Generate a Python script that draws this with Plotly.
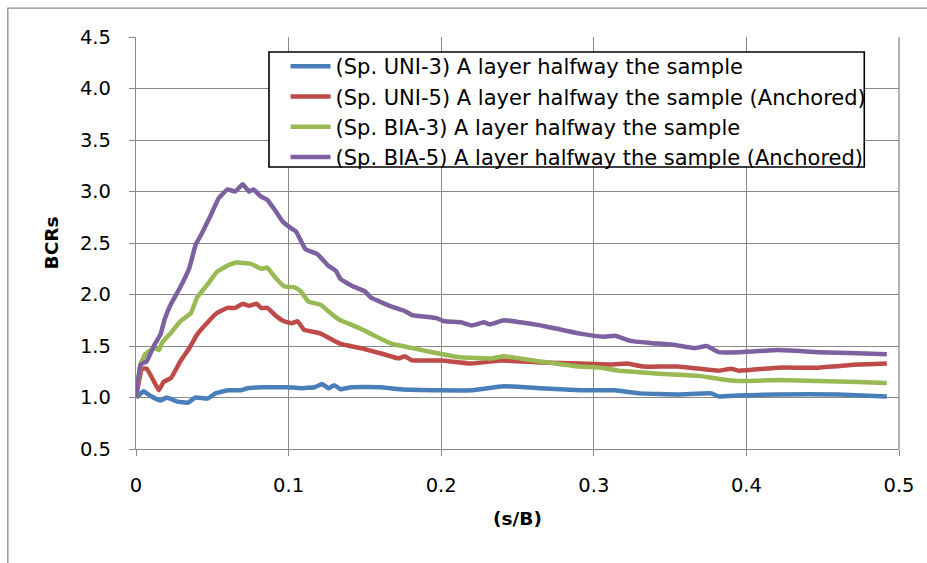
import plotly.graph_objects as go

# ---- data ----
uni3_x = [0, 0.005, 0.009, 0.016, 0.020, 0.027, 0.034, 0.039, 0.047, 0.052, 0.060, 0.069, 0.073,
          0.082, 0.091, 0.099, 0.108, 0.117, 0.122, 0.126, 0.130, 0.134, 0.141, 0.16, 0.173, 0.2,
          0.22, 0.241, 0.265, 0.291, 0.314, 0.33, 0.356, 0.377, 0.382, 0.395, 0.421, 0.46, 0.492]
uni3_y = [1.0, 1.06, 1.02, 0.97, 1.0, 0.96, 0.95, 1.0, 0.99, 1.04, 1.07, 1.07, 1.09,
          1.10, 1.10, 1.10, 1.09, 1.10, 1.13, 1.09, 1.12, 1.08, 1.10, 1.10, 1.08, 1.07,
          1.07, 1.11, 1.09, 1.07, 1.07, 1.04, 1.03, 1.04, 1.01, 1.02, 1.03, 1.03, 1.01]

uni5_x = [0, 0.004, 0.007, 0.012, 0.015, 0.018, 0.023, 0.029, 0.035, 0.040, 0.047, 0.053, 0.060,
          0.065, 0.070, 0.074, 0.079, 0.082, 0.086, 0.092, 0.097, 0.102, 0.106, 0.110, 0.121,
          0.134, 0.147, 0.16, 0.172, 0.176, 0.181, 0.2, 0.22, 0.239, 0.265, 0.291, 0.312, 0.322,
          0.332, 0.355, 0.382, 0.39, 0.395, 0.421, 0.447, 0.473, 0.492]
uni5_y = [1.0, 1.28, 1.28, 1.15, 1.07, 1.15, 1.19, 1.35, 1.48, 1.61, 1.73, 1.82, 1.87,
          1.87, 1.91, 1.89, 1.91, 1.87, 1.87, 1.79, 1.74, 1.72, 1.74, 1.66, 1.62,
          1.52, 1.48, 1.43, 1.38, 1.40, 1.36, 1.36, 1.33, 1.36, 1.34, 1.33, 1.32, 1.33,
          1.30, 1.30, 1.26, 1.28, 1.26, 1.29, 1.29, 1.32, 1.33]

bia3_x = [0, 0.003, 0.006, 0.012, 0.015, 0.017, 0.023, 0.029, 0.036, 0.040, 0.047, 0.053, 0.060,
          0.066, 0.075, 0.082, 0.086, 0.091, 0.097, 0.104, 0.108, 0.113, 0.121, 0.129, 0.134,
          0.147, 0.155, 0.168, 0.181, 0.194, 0.213, 0.233, 0.241, 0.265, 0.291, 0.304, 0.317,
          0.343, 0.369, 0.382, 0.395, 0.421, 0.447, 0.473, 0.492]
bia3_y = [1.0, 1.32, 1.42, 1.48, 1.46, 1.53, 1.63, 1.74, 1.82, 1.97, 2.10, 2.22, 2.28,
          2.31, 2.30, 2.25, 2.26, 2.17, 2.08, 2.07, 2.03, 1.93, 1.90, 1.80, 1.75,
          1.67, 1.61, 1.52, 1.48, 1.44, 1.39, 1.38, 1.40, 1.35, 1.30, 1.29, 1.26,
          1.23, 1.21, 1.18, 1.16, 1.17, 1.16, 1.15, 1.14]

bia5_x = [0, 0.003, 0.007, 0.012, 0.016, 0.019, 0.023, 0.029, 0.035, 0.039, 0.043, 0.049, 0.054,
          0.060, 0.065, 0.070, 0.074, 0.077, 0.082, 0.086, 0.091, 0.096, 0.102, 0.105, 0.111,
          0.119, 0.126, 0.131, 0.134, 0.142, 0.15, 0.154, 0.168, 0.176, 0.181, 0.197, 0.202,
          0.213, 0.22, 0.228, 0.232, 0.241, 0.252, 0.265, 0.275, 0.291, 0.306, 0.314, 0.324,
          0.337, 0.353, 0.366, 0.374, 0.382, 0.395, 0.421, 0.447, 0.473, 0.492]
bia5_y = [1.0, 1.32, 1.35, 1.51, 1.61, 1.77, 1.91, 2.07, 2.26, 2.48, 2.59, 2.77, 2.93,
          3.02, 3.0, 3.07, 3.0, 3.02, 2.95, 2.92, 2.82, 2.71, 2.64, 2.61, 2.44,
          2.39, 2.28, 2.23, 2.15, 2.08, 2.03, 1.97, 1.88, 1.84, 1.80, 1.77, 1.74,
          1.73, 1.70, 1.73, 1.71, 1.75, 1.73, 1.70, 1.67, 1.62, 1.59, 1.60, 1.55,
          1.53, 1.51, 1.48, 1.50, 1.44, 1.44, 1.46, 1.44, 1.43, 1.42]

series_names = ["(Sp. UNI-3) A layer halfway the sample",
                "(Sp. UNI-5) A layer halfway the sample (Anchored)",
                "(Sp. BIA-3) A layer halfway the sample",
                "(Sp. BIA-5) A layer halfway the sample (Anchored)"]
series_colors = ["#4A7EBB", "#BE4B48", "#98B954", "#7D60A0"]

x_ticks = [0, 0.1, 0.2, 0.3, 0.4, 0.5]
x_tick_labels = ["0", "0.1", "0.2", "0.3", "0.4", "0.5"]
y_ticks = [0.5, 1.0, 1.5, 2.0, 2.5, 3.0, 3.5, 4.0, 4.5]
y_tick_labels = ["0.5", "1.0", "1.5", "2.0", "2.5", "3.0", "3.5", "4.0", "4.5"]

FONT = "'DejaVu Sans', 'Open Sans', sans-serif"
GRID = "#8A8A8A"

fig = go.Figure()
for xs, ys, name, col in zip([uni3_x, uni5_x, bia3_x, bia5_x],
                             [uni3_y, uni5_y, bia3_y, bia5_y],
                             series_names, series_colors):
    fig.add_trace(go.Scatter(x=xs, y=ys, mode="lines", name=name,
                             line=dict(color=col, width=4.5, shape="spline", smoothing=0.3)))

fig.update_layout(
    width=927, height=563,
    margin=dict(l=136, r=22, t=37, b=114),
    paper_bgcolor="white", plot_bgcolor="white",
    font=dict(family=FONT, size=19.5, color="black"),
    showlegend=True,
    legend=dict(x=0.196, y=0.978, xanchor="left", yanchor="top",
                borderwidth=0, bgcolor="rgba(0,0,0,0)",
                font=dict(family=FONT, size=21, color="black"),
                itemwidth=40, tracegroupgap=0),
    xaxis=dict(range=[0, 0.5], tickvals=x_ticks, ticktext=x_tick_labels,
               showgrid=True, gridcolor=GRID, gridwidth=1.3,
               showline=True, linecolor=GRID, linewidth=1.3, mirror=False,
               ticks="outside", ticklen=6, tickcolor=GRID, tickwidth=1.3,
               zeroline=False, ticklabelstandoff=12,
               title=dict(text="<b>(s/B)</b>", standoff=16,
                          font=dict(family=FONT, size=18.5, color="black"))),
    yaxis=dict(range=[0.5, 4.5], tickvals=y_ticks, ticktext=y_tick_labels,
               showgrid=True, gridcolor=GRID, gridwidth=1.3,
               showline=True, linecolor=GRID, linewidth=1.3,
               ticks="outside", ticklen=6, tickcolor=GRID, tickwidth=1.3,
               zeroline=False, ticklabelstandoff=14,
               title=dict(text="<b>BCRs</b>", standoff=16,
                          font=dict(family=FONT, size=18.5, color="black"))),
)

# plot-area right border
fig.add_shape(type="line", xref="paper", yref="paper", x0=1, x1=1, y0=0, y1=1,
              line=dict(color=GRID, width=1.3))
# legend box (white, black border) drawn behind the legend entries
fig.add_shape(type="rect", xref="paper", yref="paper",
              x0=0.1743, x1=0.9545, y0=0.6845, y1=0.9636,
              line=dict(color="black", width=1.6), fillcolor="white", layer="above")
# chart-area outer border
fig.add_shape(type="rect", xref="paper", yref="paper",
              x0=-0.168, x1=1.2, y0=-0.5, y1=1.07,
              line=dict(color="#8C8C8C", width=1.3), layer="below")

fig.write_html("out.html", config={"displayModeBar": False},
               post_script="document.body.style.margin='0px';")
